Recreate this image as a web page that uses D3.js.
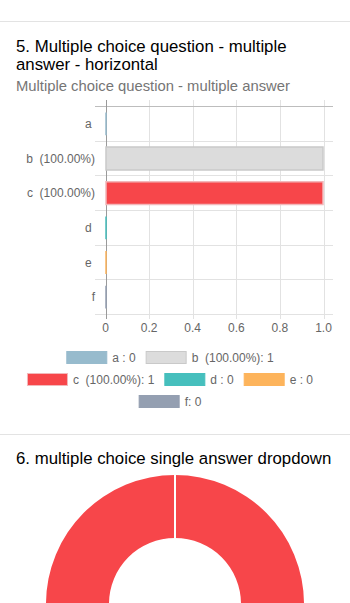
<!DOCTYPE html>
<html>
<head>
<meta charset="utf-8">
<script src="https://cdn.jsdelivr.net/npm/d3@7"></script>
<style>
  html, body { margin: 0; padding: 0; background: #fff; }
  svg { display: block; }
  svg text { font-family: "Liberation Sans", Arial, Helvetica, sans-serif; }
</style>
</head>
<body>
<svg id="chart" width="350" height="603"></svg>
<script>
// ---- data ----
const categories = ["a ", "b  (100.00%)", "c  (100.00%)", "d ", "e ", "f"];
const values = [0, 1, 1, 0, 0, 0];
const xTickValues = [0, 0.2, 0.4, 0.6, 0.8, 1.0];
const xTickLabels = ["0", "0.2", "0.4", "0.6", "0.8", "1.0"];
const title5 = ["5. Multiple choice question - multiple", "answer - horizontal"];
const subtitle5 = "Multiple choice question - multiple answer";
const title6 = "6. multiple choice single answer dropdown";
const donutLabels = ["option"];
const donutValues = [1];

// ---- styles ----
const barColors = ["#97BBCD", "#DCDCDC", "#F7464A", "#46BFBD", "#FDB45C", "#949FB1"];
const barStroke = ["#97BBCD", "#C9C9C9", "#F2B8BA", "#46BFBD", "#FDB45C", "#949FB1"];
const donutColors = ["#F7464A"];

const svg = d3.select("#chart");

// separators
svg.append("line").attr("x1", 0).attr("x2", 350).attr("y1", 21.5).attr("y2", 21.5)
  .attr("stroke", "#e3e3e3").attr("stroke-width", 1);
svg.append("line").attr("x1", 0).attr("x2", 350).attr("y1", 434.5).attr("y2", 434.5)
  .attr("stroke", "#e3e3e3").attr("stroke-width", 1);

// titles
title5.forEach((t, i) => {
  svg.append("text").attr("x", 16).attr("y", 52 + i * 18)
    .attr("font-size", 16.8).attr("fill", "#000").text(t);
});
svg.append("text").attr("x", 16).attr("y", 91)
  .attr("font-size", 14.8).attr("fill", "#757575").text(subtitle5);

// ---- bar chart ----
const x = d3.scaleLinear().domain([0, 1]).range([105.5, 323.5]);
const y = d3.scaleBand().domain(categories).range([106, 314]).paddingInner(0).paddingOuter(0);
const gridL = 95, gridR = 333;

const g = svg.append("g");
// vertical gridlines
g.selectAll("line.vg").data(xTickValues).enter().append("line")
  .attr("x1", d => Math.round(x(d)) + 0.5).attr("x2", d => Math.round(x(d)) + 0.5)
  .attr("y1", 100).attr("y2", 319)
  .attr("stroke", d => d === 0 ? "#999" : "#e2e2e2").attr("stroke-width", 1);
// horizontal gridlines (band boundaries)
const bounds = categories.map(c => y(c)).concat([y(categories[categories.length - 1]) + y.bandwidth()]);
g.selectAll("line.hg").data(bounds).enter().append("line")
  .attr("x1", gridL).attr("x2", gridR)
  .attr("y1", (d) => Math.round(d) + 0.5).attr("y2", d => Math.round(d) + 0.5)
  .attr("stroke", (d, i) => i === 0 ? "#bdbdbd" : "#e2e2e2").attr("stroke-width", 1);
// redraw zero axis on top
g.append("line").attr("x1", Math.round(x(0)) + 0.5).attr("x2", Math.round(x(0)) + 0.5)
  .attr("y1", 100).attr("y2", 319).attr("stroke", "#9a9a9a");

// bars
const barH = y.bandwidth() * 0.66;
g.selectAll("path.bar").data(values).enter().append("path")
  .attr("d", (d, i) => {
    const x0 = x(0) + 0.5, x1 = x(d) - 0.5;
    const yy = y(categories[i]) + (y.bandwidth() - barH) / 2 + 0.5;
    const p = d3.path();
    p.rect(x0, yy, Math.max(0, x1 - x0), barH);
    return p.toString();
  })
  .attr("fill", (d, i) => barColors[i])
  .attr("stroke", (d, i) => barStroke[i])
  .attr("stroke-width", 1.5);

// y labels
g.selectAll("text.yl").data(categories).enter().append("text")
  .attr("x", 95).attr("y", d => y(d) + y.bandwidth() / 2 + 4.5)
  .attr("text-anchor", "end").attr("font-size", 12).attr("fill", "#666")
  .style("white-space", "pre").text(d => d);

// x tick labels
g.selectAll("text.xl").data(xTickValues).enter().append("text")
  .attr("x", d => x(d)).attr("y", 332)
  .attr("text-anchor", "middle").attr("font-size", 12).attr("fill", "#666")
  .text((d, i) => xTickLabels[i]);

// legend
const legend = svg.append("g");
const items = categories.map((c, i) => ({ t: c + ": " + values[i], i }));
const measure = legend.append("text").attr("font-size", 12).style("white-space", "pre");
items.forEach(it => { measure.text(it.t); it.w = measure.node().getComputedTextLength(); it.full = 40 + 6 + it.w + 10; });
measure.remove();
const rows = [];
let cur = [], curW = 0;
const maxW = 340;
items.forEach(it => {
  if (cur.length && curW + it.full > maxW) { rows.push(cur); cur = []; curW = 0; }
  cur.push(it); curW += it.full;
});
if (cur.length) rows.push(cur);
rows.forEach((row, r) => {
  const total = d3.sum(row, d => d.full);
  let cx = 175 - total / 2;
  const cy = 357.5 + r * 22;
  row.forEach(it => {
    legend.append("rect").attr("x", cx + 0.5).attr("y", cy - 6).attr("width", 40).attr("height", 12)
      .attr("fill", barColors[it.i]).attr("stroke", barStroke[it.i]).attr("stroke-width", 1);
    legend.append("text").attr("x", cx + 46).attr("y", cy + 4.3)
      .attr("font-size", 12).attr("fill", "#666").style("white-space", "pre").text(it.t);
    cx += it.full;
  });
});

// ---- section 6 ----
svg.append("text").attr("x", 16).attr("y", 464)
  .attr("font-size", 16.8).attr("fill", "#000").text(title6);

const pie = d3.pie().sort(null).value(d => d)(donutValues);
const arc = d3.arc().innerRadius(66).outerRadius(129);
const dg = svg.append("g").attr("transform", "translate(175,604)");
dg.selectAll("path").data(pie).enter().append("path")
  .attr("d", arc).attr("fill", (d, i) => donutColors[i]);
// slice border seams
dg.selectAll("line.seam").data(pie).enter().append("line")
  .attr("x1", d => 66 * Math.sin(d.startAngle)).attr("y1", d => -66 * Math.cos(d.startAngle))
  .attr("x2", d => 130 * Math.sin(d.startAngle)).attr("y2", d => -130 * Math.cos(d.startAngle))
  .attr("stroke", "#fff").attr("stroke-width", 2);
</script>
</body>
</html>
